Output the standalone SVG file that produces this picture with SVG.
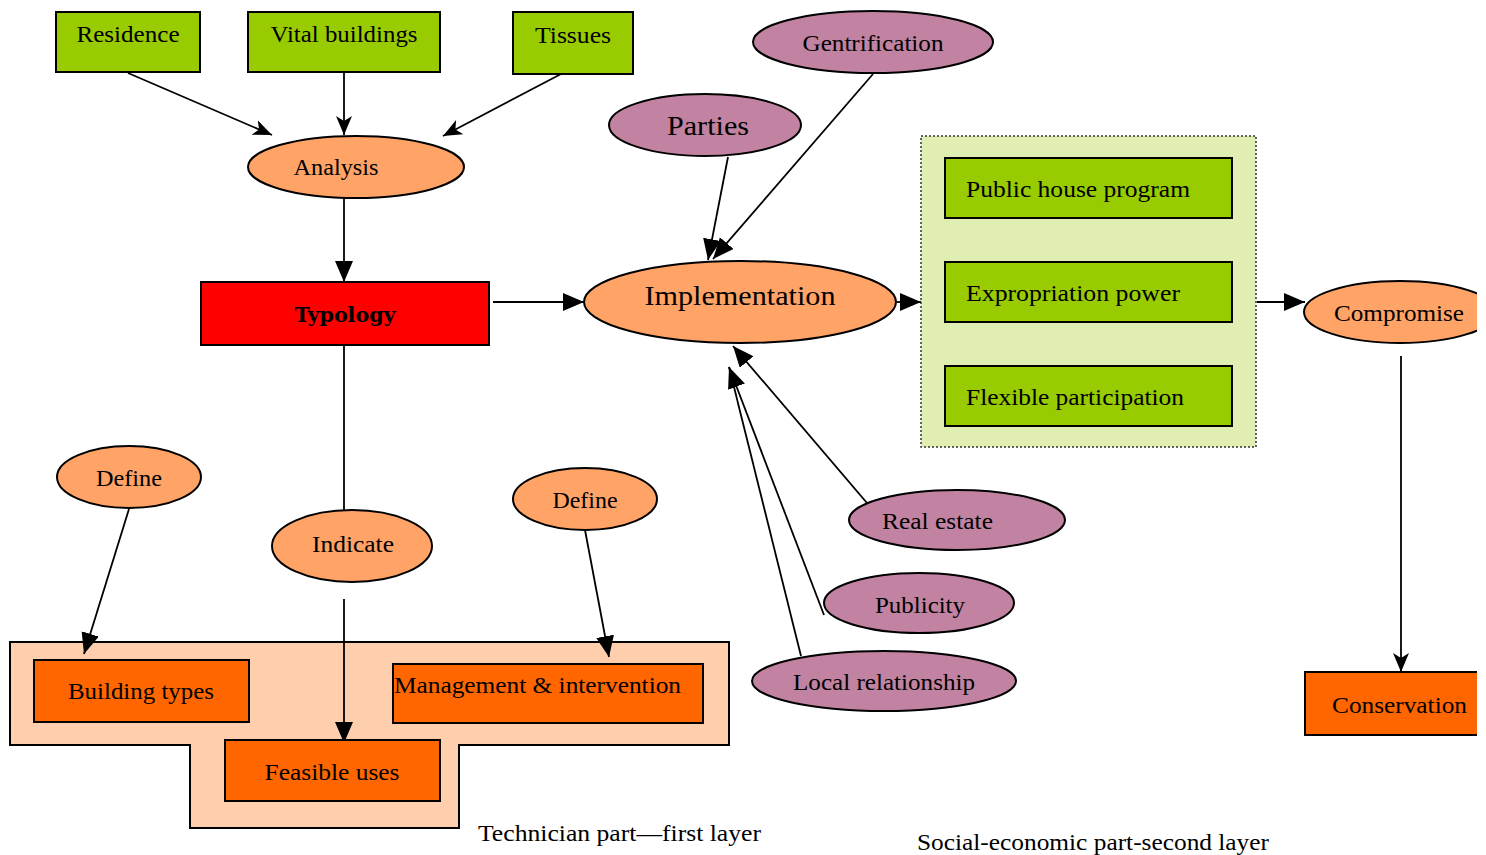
<svg xmlns="http://www.w3.org/2000/svg" width="1486" height="855" viewBox="0 0 1486 855">
<defs>
<style>
.t{font-family:"Liberation Serif","DejaVu Serif",serif;font-size:23px;fill:#000}
.tl{font-family:"Liberation Serif","DejaVu Serif",serif;font-size:27px;fill:#000}
.tb{font-family:"DejaVu Serif","Liberation Serif",serif;font-size:20px;font-weight:bold;fill:#000}
.g{fill:#99cc00;stroke:#000;stroke-width:2}
.o{fill:#ff6600;stroke:#000;stroke-width:2}
.lo{fill:#ffa366;stroke:#000;stroke-width:2}
.p{fill:#c183a1;stroke:#000;stroke-width:2}
.c{stroke:#000;stroke-width:1.8;fill:none}
</style>
<marker id="tri" markerUnits="userSpaceOnUse" markerWidth="24" markerHeight="20" refX="21" refY="9" orient="auto"><path d="M0,0 L21,9 L0,18 z" fill="#000"/></marker>
<marker id="st" markerUnits="userSpaceOnUse" markerWidth="22" markerHeight="18" refX="19" refY="8" orient="auto"><path d="M0,0 L19,8 L0,16 L5,8 z" fill="#000"/></marker>
<clipPath id="clip"><rect x="0" y="0" width="1477" height="855"/></clipPath>
</defs>
<rect width="1486" height="855" fill="#fff"/>
<g id="containers">
<path d="M10,642 H729 V745 H459 V828 H190 V745 H10 Z" fill="#ffcfad" stroke="#000" stroke-width="2"/>
<rect x="921" y="136" width="335" height="311" fill="#e0eeb2" stroke="#333" stroke-width="1.5" stroke-dasharray="2,2"/>
</g>
<g id="connectors">
<line class="c" x1="128" y1="73" x2="272" y2="135" marker-end="url(#st)"/>
<line class="c" x1="344" y1="72" x2="344" y2="135" marker-end="url(#st)"/>
<line class="c" x1="561" y1="74" x2="443" y2="136" marker-end="url(#st)"/>
<line class="c" x1="344" y1="199" x2="344" y2="282" marker-end="url(#tri)"/>
<line class="c" x1="493" y1="302" x2="584" y2="302" marker-end="url(#tri)"/>
<line class="c" x1="728" y1="157" x2="708" y2="260" marker-end="url(#tri)"/>
<line class="c" x1="873" y1="74" x2="713" y2="259" marker-end="url(#tri)"/>
<line class="c" x1="897" y1="302" x2="921" y2="302" marker-end="url(#tri)"/>
<line class="c" x1="1257" y1="302" x2="1305" y2="302" marker-end="url(#tri)"/>
<line class="c" x1="1401" y1="356" x2="1401" y2="672" marker-end="url(#st)"/>
<line class="c" x1="344" y1="345" x2="344" y2="510"/>
<line class="c" x1="344" y1="599" x2="344" y2="743" marker-end="url(#tri)"/>
<line class="c" x1="129" y1="509" x2="84" y2="654" marker-end="url(#tri)"/>
<line class="c" x1="585" y1="530" x2="609" y2="657" marker-end="url(#tri)"/>
<line class="c" x1="873" y1="510" x2="733" y2="346" marker-end="url(#tri)"/>
<line class="c" x1="824" y1="615" x2="729" y2="367" marker-end="url(#tri)"/>
<line class="c" x1="801" y1="656" x2="729" y2="367"/>
</g>
<g id="residence"><rect class="g" x="56" y="12" width="144" height="60"/><text class="t" x="128" y="42" text-anchor="middle" textLength="103" lengthAdjust="spacingAndGlyphs">Residence</text></g>
<g id="vital"><rect class="g" x="248" y="12" width="192" height="60"/><text class="t" x="344" y="42" text-anchor="middle" textLength="147" lengthAdjust="spacingAndGlyphs">Vital buildings</text></g>
<g id="tissues"><rect class="g" x="513" y="12" width="120" height="62"/><text class="t" x="573" y="43" text-anchor="middle" textLength="76" lengthAdjust="spacingAndGlyphs">Tissues</text></g>
<g id="gentrification"><ellipse class="p" cx="873" cy="42" rx="120" ry="31"/><text class="t" x="873" y="51" text-anchor="middle" textLength="141" lengthAdjust="spacingAndGlyphs">Gentrification</text></g>
<g id="parties"><ellipse class="p" cx="705" cy="125" rx="96" ry="31"/><text class="tl" x="708" y="135" text-anchor="middle" textLength="82" lengthAdjust="spacingAndGlyphs">Parties</text></g>
<g id="analysis"><ellipse class="lo" cx="356" cy="167" rx="108" ry="31"/><text class="t" x="336" y="175" text-anchor="middle" textLength="85" lengthAdjust="spacingAndGlyphs">Analysis</text></g>
<g id="typology"><rect x="201" y="282" width="288" height="63" fill="#ff0000" stroke="#000" stroke-width="2"/><text class="tb" x="345" y="322" text-anchor="middle" textLength="101" lengthAdjust="spacingAndGlyphs">Typology</text></g>
<g id="implementation"><ellipse class="lo" cx="740" cy="302" rx="156" ry="41"/><text class="tl" x="740" y="305" text-anchor="middle" textLength="191" lengthAdjust="spacingAndGlyphs">Implementation</text></g>
<g id="public-house"><rect class="g" x="945" y="158" width="287" height="60"/><text class="t" x="966" y="197" textLength="224" lengthAdjust="spacingAndGlyphs">Public house program</text></g>
<g id="expropriation"><rect class="g" x="945" y="262" width="287" height="60"/><text class="t" x="966" y="301" textLength="214" lengthAdjust="spacingAndGlyphs">Expropriation power</text></g>
<g id="flexible"><rect class="g" x="945" y="366" width="287" height="60"/><text class="t" x="966" y="405" textLength="218" lengthAdjust="spacingAndGlyphs">Flexible participation</text></g>
<g id="compromise" clip-path="url(#clip)"><ellipse class="lo" cx="1400" cy="312" rx="96" ry="31"/><text class="t" x="1334" y="321" textLength="130" lengthAdjust="spacingAndGlyphs">Compromise</text></g>
<g id="conservation" clip-path="url(#clip)"><rect class="o" x="1305" y="672" width="190" height="63"/><text class="t" x="1332" y="713" textLength="135" lengthAdjust="spacingAndGlyphs">Conservation</text></g>
<g id="define1"><ellipse class="lo" cx="129" cy="477" rx="72" ry="31"/><text class="t" x="129" y="486" text-anchor="middle" textLength="66" lengthAdjust="spacingAndGlyphs">Define</text></g>
<g id="indicate"><ellipse class="lo" cx="352" cy="546" rx="80" ry="36"/><text class="t" x="353" y="552" text-anchor="middle" textLength="82" lengthAdjust="spacingAndGlyphs">Indicate</text></g>
<g id="define2"><ellipse class="lo" cx="585" cy="499" rx="72" ry="31"/><text class="t" x="585" y="508" text-anchor="middle" textLength="65" lengthAdjust="spacingAndGlyphs">Define</text></g>
<g id="real-estate"><ellipse class="p" cx="957" cy="520" rx="108" ry="30"/><text class="t" x="882" y="529" textLength="111" lengthAdjust="spacingAndGlyphs">Real estate</text></g>
<g id="publicity"><ellipse class="p" cx="919" cy="603" rx="95" ry="30"/><text class="t" x="920" y="613" text-anchor="middle" textLength="90" lengthAdjust="spacingAndGlyphs">Publicity</text></g>
<g id="local"><ellipse class="p" cx="884" cy="681" rx="132" ry="30"/><text class="t" x="884" y="690" text-anchor="middle" textLength="182" lengthAdjust="spacingAndGlyphs">Local relationship</text></g>
<g id="building-types"><rect class="o" x="34" y="660" width="215" height="62"/><text class="t" x="141" y="699" text-anchor="middle" textLength="146" lengthAdjust="spacingAndGlyphs">Building types</text></g>
<g id="management"><rect class="o" x="393" y="664" width="310" height="59"/><text class="t" x="394" y="693" textLength="287" lengthAdjust="spacingAndGlyphs">Management &amp; intervention</text></g>
<g id="feasible"><rect class="o" x="225" y="740" width="215" height="61"/><text class="t" x="332" y="780" text-anchor="middle" textLength="135" lengthAdjust="spacingAndGlyphs">Feasible uses</text></g>
<g id="captions">
<text class="t" x="478" y="841" textLength="283" lengthAdjust="spacingAndGlyphs">Technician part—first layer</text>
<text class="t" x="917" y="850" textLength="352" lengthAdjust="spacingAndGlyphs">Social-economic part-second layer</text>
</g>
</svg>
